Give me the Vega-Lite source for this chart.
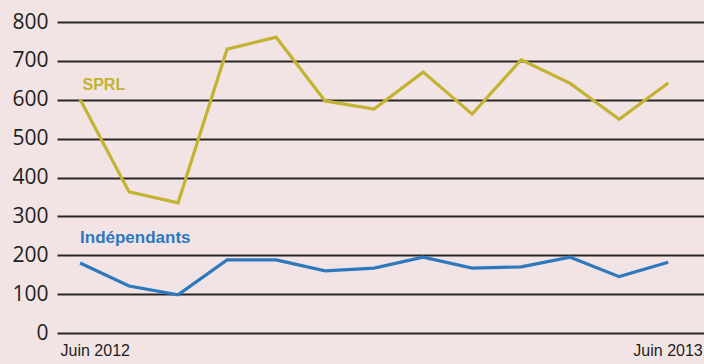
{
  "$schema": "https://vega.github.io/schema/vega-lite/v6.json",
  "width": 647,
  "height": 311,
  "autosize": {"type": "none"},
  "padding": {"left": 57, "top": 22, "right": 0, "bottom": 31},
  "background": "#f2e4e4",
  "config": {"view": {"stroke": null}},
  "datasets": {
    "series": [
      {"month": 0, "serie": "SPRL", "valeur": 601},
      {"month": 1, "serie": "SPRL", "valeur": 363},
      {"month": 2, "serie": "SPRL", "valeur": 335},
      {"month": 3, "serie": "SPRL", "valeur": 730},
      {"month": 4, "serie": "SPRL", "valeur": 761},
      {"month": 5, "serie": "SPRL", "valeur": 597},
      {"month": 6, "serie": "SPRL", "valeur": 576},
      {"month": 7, "serie": "SPRL", "valeur": 671},
      {"month": 8, "serie": "SPRL", "valeur": 563},
      {"month": 9, "serie": "SPRL", "valeur": 703},
      {"month": 10, "serie": "SPRL", "valeur": 642},
      {"month": 11, "serie": "SPRL", "valeur": 550},
      {"month": 12, "serie": "SPRL", "valeur": 643},
      {"month": 0, "serie": "Indépendants", "valeur": 180},
      {"month": 1, "serie": "Indépendants", "valeur": 121},
      {"month": 2, "serie": "Indépendants", "valeur": 98},
      {"month": 3, "serie": "Indépendants", "valeur": 188},
      {"month": 4, "serie": "Indépendants", "valeur": 188},
      {"month": 5, "serie": "Indépendants", "valeur": 160},
      {"month": 6, "serie": "Indépendants", "valeur": 167},
      {"month": 7, "serie": "Indépendants", "valeur": 195},
      {"month": 8, "serie": "Indépendants", "valeur": 167},
      {"month": 9, "serie": "Indépendants", "valeur": 170},
      {"month": 10, "serie": "Indépendants", "valeur": 195},
      {"month": 11, "serie": "Indépendants", "valeur": 145},
      {"month": 12, "serie": "Indépendants", "valeur": 182}
    ],
    "labels": [
      {"month": 0.05, "serie": "SPRL", "valeur": 637, "texte": "SPRL"},
      {"month": 0.0, "serie": "Indépendants", "valeur": 244, "texte": "Indépendants"}
    ]
  },
  "encoding": {
    "x": {
      "field": "month",
      "type": "quantitative",
      "scale": {"domain": [-0.47, 12.73], "nice": false, "zero": false},
      "axis": {
        "values": [0, 12],
        "labelExpr": "datum.value == 0 ? 'Juin 2012' : 'Juin 2013'",
        "labelAlign": {"condition": {"test": "datum.value == 0", "value": "left"}, "value": "right"},
        "labelOffset": {"condition": {"test": "datum.value == 0", "value": -20}, "value": 34},
        "labelOverlap": false,
        "labelFont": "Liberation Sans",
        "labelFontSize": 16,
        "labelColor": "#1e1e1e",
        "labelPadding": 9,
        "labelBaseline": "top",
        "domain": false,
        "ticks": false,
        "grid": false,
        "title": null
      }
    },
    "y": {
      "field": "valeur",
      "type": "quantitative",
      "scale": {"domain": [0, 800], "nice": false},
      "axis": {
        "values": [0, 100, 200, 300, 400, 500, 600, 700, 800],
        "tickCount": 9,
        "labelOverlap": false,
        "labelFont": "Open Sans",
        "labelFontSize": 21,
        "labelColor": "#1e1e1e",
        "labelPadding": 9,
        "domain": false,
        "ticks": false,
        "grid": true,
        "gridColor": "#2a2626",
        "gridWidth": 2,
        "gridOpacity": 1,
        "title": null
      }
    }
  },
  "layer": [
    {
      "data": {"name": "series"},
      "mark": {"type": "line", "strokeWidth": 3.2, "strokeJoin": "miter"},
      "encoding": {
        "color": {
          "field": "serie",
          "type": "nominal",
          "scale": {"domain": ["SPRL", "Indépendants"], "range": ["#c2b432", "#2e78be"]},
          "legend": null
        }
      }
    },
    {
      "data": {"name": "labels"},
      "mark": {"type": "text", "align": "left", "baseline": "middle", "font": "Liberation Sans", "fontWeight": "bold"},
      "encoding": {
        "text": {"field": "texte"},
        "size": {
          "field": "serie",
          "type": "nominal",
          "scale": {"domain": ["SPRL", "Indépendants"], "range": [16, 17]},
          "legend": null
        },
        "color": {
          "field": "serie",
          "type": "nominal",
          "scale": {"domain": ["SPRL", "Indépendants"], "range": ["#a89a2c", "#2e78be"]},
          "legend": null
        }
      }
    }
  ]
}
